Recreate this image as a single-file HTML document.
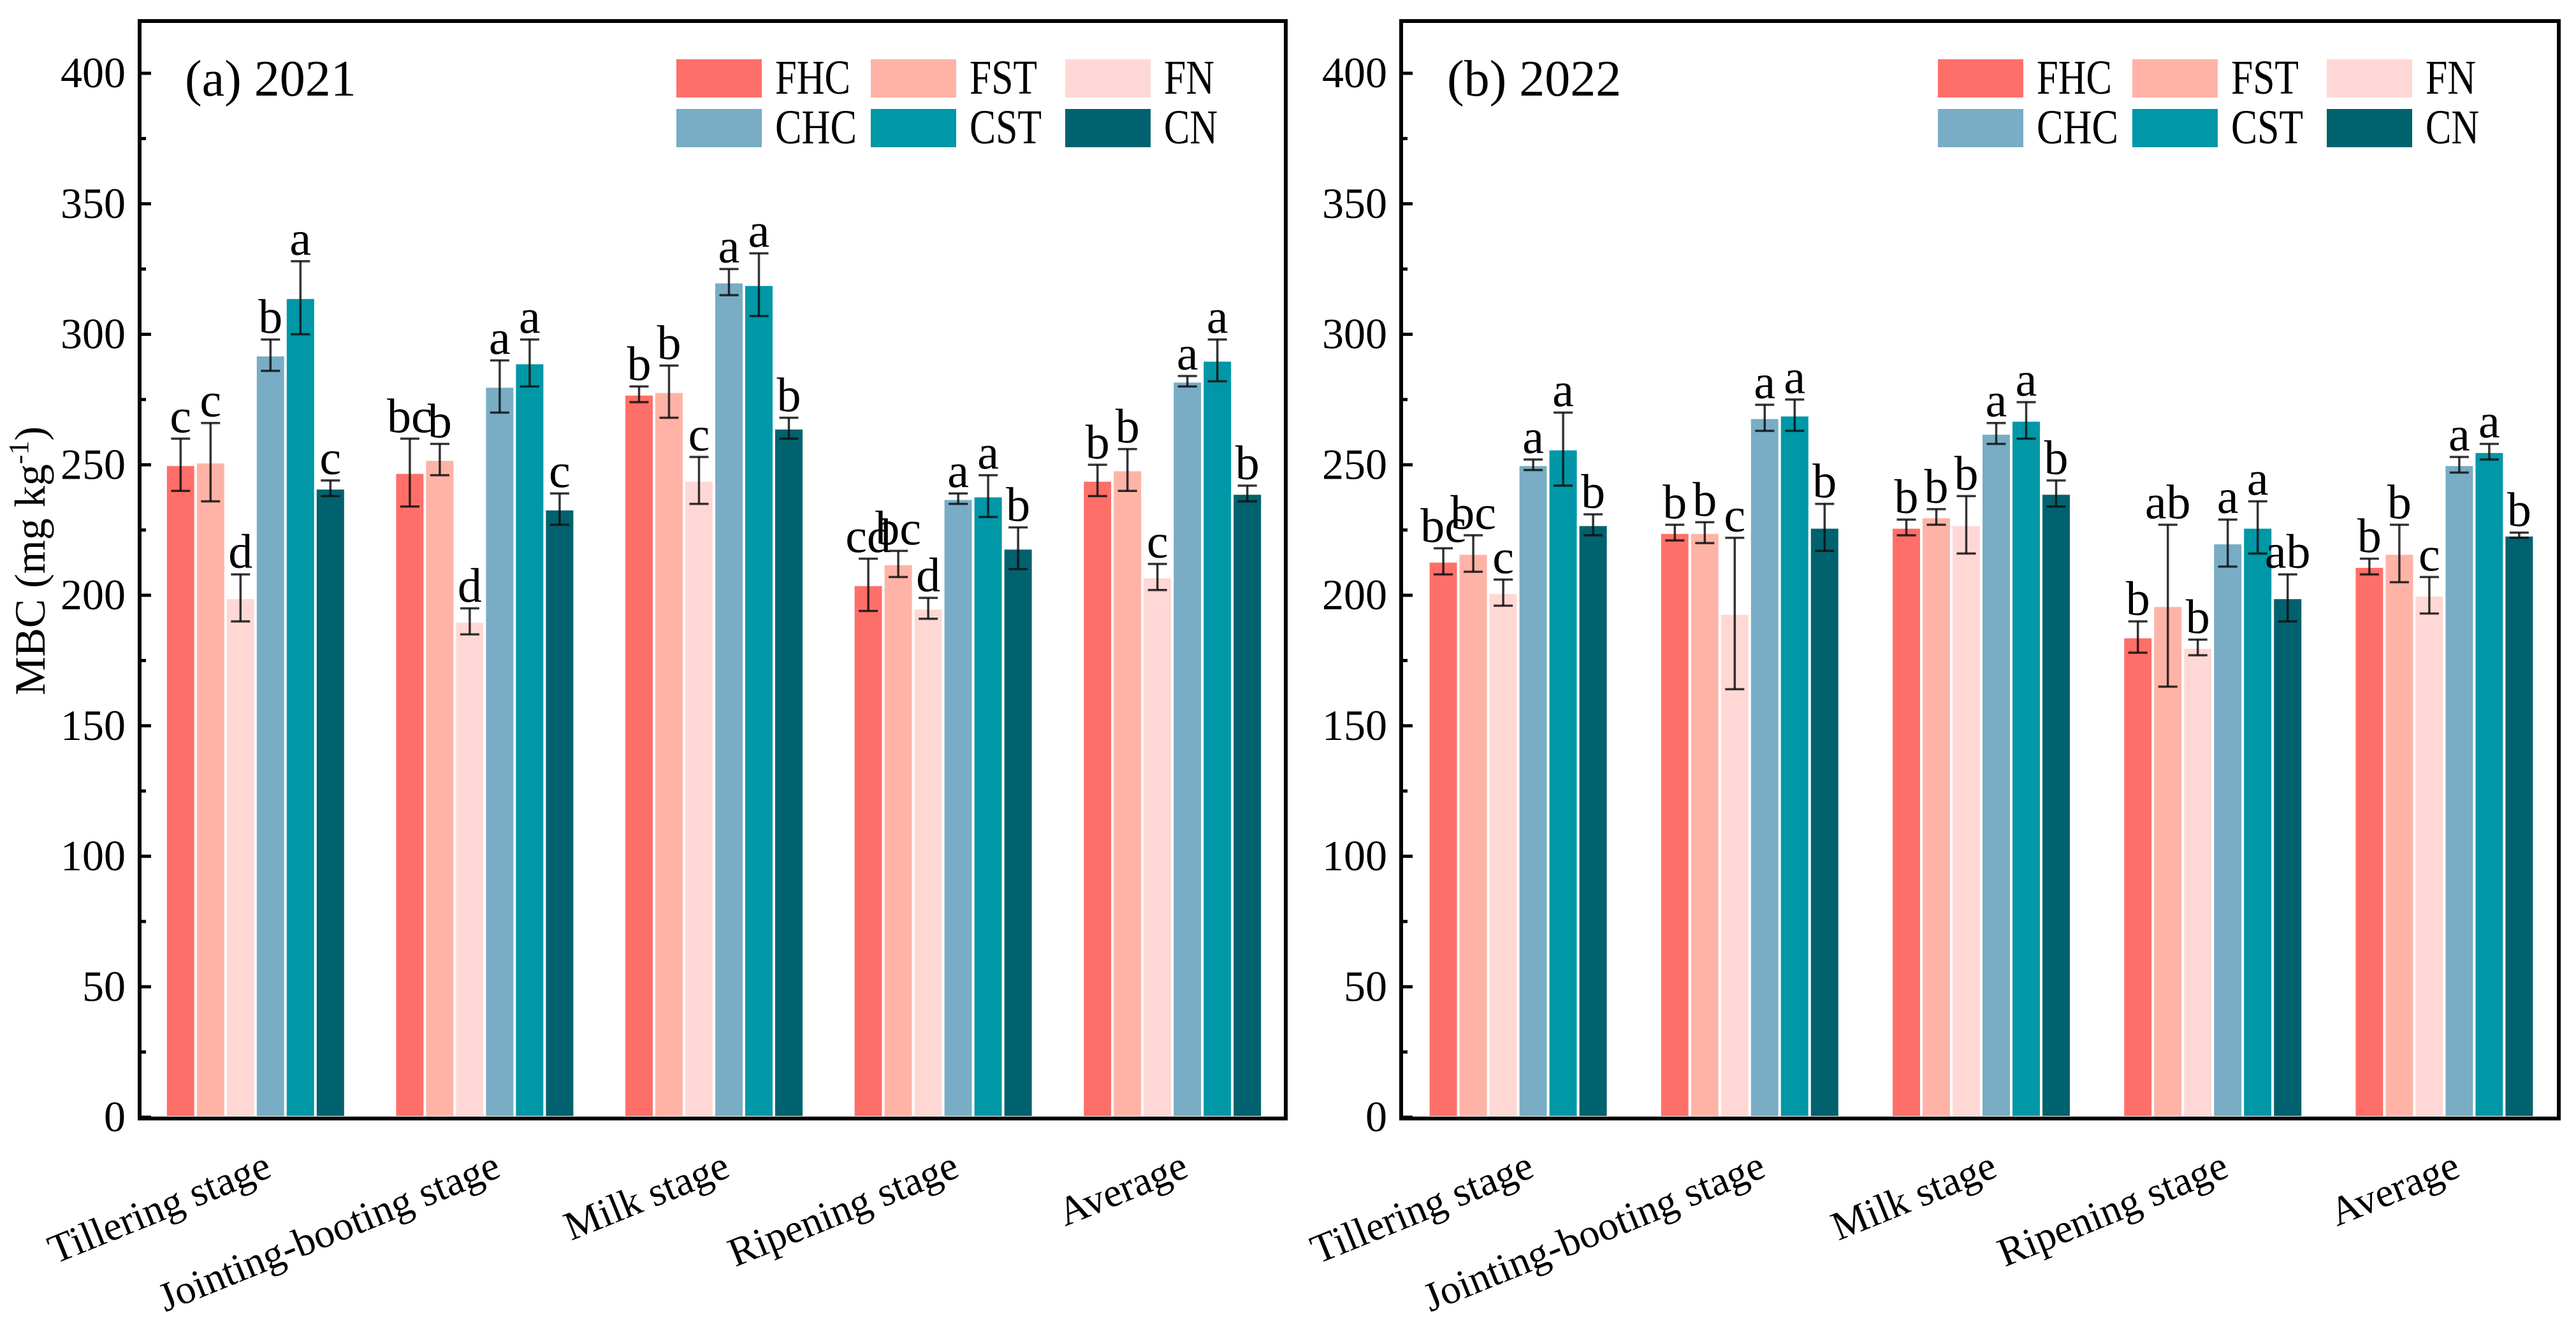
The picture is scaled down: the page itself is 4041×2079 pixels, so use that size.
<!DOCTYPE html>
<html><head><meta charset="utf-8"><style>
html,body{margin:0;padding:0;background:#fff;}
svg{display:block;}
text{font-family:"Liberation Serif","Times New Roman","DejaVu Serif",serif;}
</style></head><body>
<svg id="chart" width="4041" height="2079" viewBox="0 0 4041 2079"></svg>
<script>
const categories = ["Tillering stage","Jointing-booting stage","Milk stage","Ripening stage","Average"];
const seriesNames = ["FHC","FST","FN","CHC","CST","CN"];
const yTicks = [0,50,100,150,200,250,300,350,400];
// 2021
const v2021_FHC=[250,247,277,204,244], e2021_FHC=[10,13,3,10,6], l2021_FHC=["c","bc","b","cd","b"];
const v2021_FST=[251,252,278,212,248], e2021_FST=[15,6,10,5,8], l2021_FST=["c","b","b","bc","b"];
const v2021_FN=[199,190,244,195,207], e2021_FN=[9,5,9,4,5], l2021_FN=["d","d","c","d","c"];
const v2021_CHC=[292,280,320,237,282], e2021_CHC=[6,10,5,2,2], l2021_CHC=["b","a","a","a","a"];
const v2021_CST=[314,289,319,238,290], e2021_CST=[14,9,12,8,8], l2021_CST=["a","a","a","a","a"];
const v2021_CN=[241,233,264,218,239], e2021_CN=[3,6,4,8,3], l2021_CN=["c","c","b","b","b"];
// 2022
const v2022_FHC=[213,224,226,184,211], e2022_FHC=[5,3,3,6,3], l2022_FHC=["bc","b","b","b","b"];
const v2022_FST=[216,224,230,196,216], e2022_FST=[7,4,3,31,11], l2022_FST=["bc","b","b","ab","b"];
const v2022_FN=[201,193,227,180,200], e2022_FN=[5,29,11,3,7], l2022_FN=["c","c","b","b","c"];
const v2022_CHC=[250,268,262,220,250], e2022_CHC=[2,5,4,9,3], l2022_CHC=["a","a","a","a","a"];
const v2022_CST=[256,269,267,226,255], e2022_CST=[14,6,7,10,3], l2022_CST=["a","a","a","a","a"];
const v2022_CN=[227,226,239,199,223], e2022_CN=[4,9,5,9,1], l2022_CN=["b","b","b","ab","b"];

const colors=["#FF6F69","#FFB3A7","#FFD8D6","#78ADC5","#0097A7","#00626E"];
const legendWidths=[118,106,79,128,113,84];
const svg=document.getElementById('chart');
const NS="http://www.w3.org/2000/svg";
function mk(tag,attrs,parent){const e=document.createElementNS(NS,tag);for(const k in attrs)e.setAttribute(k,attrs[k]);if(tag==='text')e.setAttribute('font-family','Liberation Serif, Times New Roman, DejaVu Serif, serif');(parent||svg).appendChild(e);return e;}

const panels=[
 {id:"2021",title:"(a) 2021",x0:219,x1:2017,titleX:290,
  vals:[v2021_FHC,v2021_FST,v2021_FN,v2021_CHC,v2021_CST,v2021_CN],
  errs:[e2021_FHC,e2021_FST,e2021_FN,e2021_CHC,e2021_CST,e2021_CN],
  lets:[l2021_FHC,l2021_FST,l2021_FN,l2021_CHC,l2021_CST,l2021_CN]},
 {id:"2022",title:"(b) 2022",x0:2198,x1:4014,titleX:2270,
  vals:[v2022_FHC,v2022_FST,v2022_FN,v2022_CHC,v2022_CST,v2022_CN],
  errs:[e2022_FHC,e2022_FST,e2022_FN,e2022_CHC,e2022_CST,e2022_CN],
  lets:[l2022_FHC,l2022_FST,l2022_FN,l2022_CHC,l2022_CST,l2022_CN]}
];
const yTop=33, yBot=1755, y0px=1753, y400px=115;
function yScale(v){return y0px-(v/400)*(y0px-y400px);}

panels.forEach(p=>{
  const g=mk('g',{});
  
  
  const band=(p.x1-p.x0)/categories.length;
  const bw=47;
  function xCenter(i){return p.x0+band*(i+0.5)+2;}
  for(let s=0;s<6;s++){
    for(let i=0;i<categories.length;i++){
      const v=p.vals[s][i], e=p.errs[s][i];
      const cx=xCenter(i)+(s-2.5)*bw;
      const r=mk('rect',{x:cx-bw/2,y:yScale(v),width:bw,height:y0px-yScale(v),fill:colors[s],stroke:"#fff","stroke-width":4},g);
      
      
      const eg=mk('g',{stroke:"#111","stroke-width":3.5,"stroke-opacity":0.85},g);
      
      
      mk('line',{x1:cx,x2:cx,y1:yScale(v+e),y2:yScale(v-e)},eg);
      mk('line',{x1:cx-15,x2:cx+15,y1:yScale(v+e),y2:yScale(v+e)},eg);
      mk('line',{x1:cx-15,x2:cx+15,y1:yScale(v-e),y2:yScale(v-e)},eg);
      const t=mk('text',{x:cx,y:yScale(v+e)-10,"text-anchor":"middle","font-size":76,fill:"#000"},g);
      t.textContent=p.lets[s][i];
      
      
    }
  }
  const fr=mk('rect',{x:p.x0,y:yTop,width:p.x1-p.x0,height:yBot-yTop,fill:"none",stroke:"#000","stroke-width":6},g);
  
  
  for(let v=0;v<=400;v+=25){
    const major=v%50===0;
    mk('line',{x1:p.x0,x2:p.x0+(major?18:10),y1:yScale(v),y2:yScale(v),stroke:"#000","stroke-width":5},g);
  }
  yTicks.forEach(v=>{
    const t=mk('text',{x:p.x0-22,y:yScale(v)+22,"text-anchor":"end","font-size":68},g);
    t.textContent=v;
    
    
  });
  categories.forEach((c,i)=>{
    const x=xCenter(i)+28, y=1845;
    const t=mk('text',{x:x,y:y,"text-anchor":"end","font-size":64,transform:`rotate(-22 ${x} ${y})`},g);
    t.textContent=c;
    
    
  });
  const tt=mk('text',{x:p.titleX,y:150,"font-size":80},g);
  tt.textContent=p.title;
  
  
  const lg=mk('g',{},g);
  
  
  const lx=p.x0+842;
  for(let s=0;s<6;s++){
    const col=s%3,row=Math.floor(s/3);
    const sx=lx+col*305, sy=93+row*78;
    const sw=mk('rect',{x:sx,y:sy,width:134,height:60,fill:colors[s]},lg);
    
    
    const lt=mk('text',{x:sx+155,y:sy+54,"font-size":76,textLength:legendWidths[s],lengthAdjust:"spacingAndGlyphs"},lg);
    lt.textContent=seriesNames[s];
    
    
  }
});
const yl=mk('text',{x:0,y:0,"font-size":68,"text-anchor":"middle",transform:"translate(70 880) rotate(-90)"});


yl.innerHTML='MBC (mg kg<tspan dy="-26" font-size="44">-1</tspan><tspan dy="26">)</tspan>';
</script>
</body></html>
